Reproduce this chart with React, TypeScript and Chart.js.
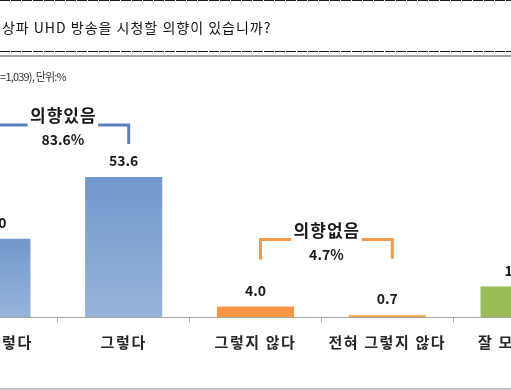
import { useEffect, useRef } from 'react';
import { Chart, registerables } from 'chart.js';

Chart.register(...registerables);

const titleText = '지상파 UHD 방송을 시청할 의향이 있습니까?';
const noteText = '(N=1,039), 단위:%';
const categories = ['매우 그렇다', '그렇다', '그렇지 않다', '전혀 그렇지 않다', '잘 모르겠다'];
const values = [30.0, 53.6, 4.0, 0.7, 11.7];
const groupLabels = ['의향있음', '의향없음'];
const groupTotals = ['83.6%', '4.7%'];
const groupFrom = [0, 2];
const groupTo = [1, 3];
const groupLevels = [73.6, 29.7];

const FONT = '"Noto Sans CJK KR", "Noto Sans", sans-serif';
const barColors = ['blue', 'blue', '#f79646', '#eba43c', '#9bbb59'];
const groupColors = ['#5a80c2', '#f79646'];

const dashed = 'repeating-linear-gradient(90deg, #1a1a1a 0 10px, #ffffff 10px 11px)';

export default function App() {
  const ref = useRef<HTMLCanvasElement | null>(null);

  useEffect(() => {
    document.body.style.margin = '0';
    const canvas = ref.current;
    if (!canvas) return;

    const labelPlugin = {
      id: 'labels',
      beforeDraw(chart: any) {
        chart.ctx.letterSpacing = '1.6px';
      },
      beforeDatasetsDraw(chart: any) {
        chart.ctx.letterSpacing = '0px';
      },
      afterDatasetsDraw(chart: any) {
        const ctx = chart.ctx;
        const meta = chart.getDatasetMeta(0);
        ctx.save();
        ctx.letterSpacing = '0px';
        ctx.fillStyle = '#1a1a1a';
        ctx.font = `bold 14px ${FONT}`;
        ctx.textAlign = 'center';
        ctx.textBaseline = 'middle';
        meta.data.forEach((bar: any, i: number) => {
          ctx.fillText(values[i].toFixed(1), bar.x, bar.y - 16);
        });
        const xs = chart.scales.x;
        const ys = chart.scales.y;
        groupLabels.forEach((lab, g) => {
          const x1 = xs.getPixelForValue(groupFrom[g]) + 5;
          const x2 = xs.getPixelForValue(groupTo[g]) + 5;
          const y = ys.getPixelForValue(groupLevels[g]);
          const mid = (x1 + x2) / 2;
          ctx.font = `bold 17px ${FONT}`;
          ctx.letterSpacing = '1px';
          const w = ctx.measureText(lab).width;
          ctx.strokeStyle = groupColors[g];
          ctx.lineWidth = 3;
          ctx.lineCap = 'butt';
          ctx.beginPath();
          ctx.moveTo(x1, y + 20);
          ctx.lineTo(x1, y);
          ctx.lineTo(mid - w / 2 - 2, y);
          ctx.moveTo(mid + w / 2 + 2, y);
          ctx.lineTo(x2, y);
          ctx.lineTo(x2, y + 19);
          ctx.stroke();
          ctx.fillStyle = '#1a1a1a';
          ctx.fillText(lab, mid + 0.5, y - 9);
          ctx.letterSpacing = '0px';
          ctx.font = `bold 14px ${FONT}`;
          ctx.fillText(groupTotals[g], mid, y + 15);
        });
        ctx.restore();
      },
    };

    const chart = new Chart(canvas, {
      type: 'bar',
      data: {
        labels: categories,
        datasets: [
          {
            data: values,
            backgroundColor: (c: any) => {
              const col = barColors[c.dataIndex];
              if (col !== 'blue') return col;
              const ch = c.chart;
              const ys = ch.scales && ch.scales.y;
              if (!ys) return '#82a5d3';
              const top = ys.getPixelForValue(values[c.dataIndex]);
              const bot = ys.getPixelForValue(0);
              if (!Number.isFinite(top) || !Number.isFinite(bot) || top === bot) return '#82a5d3';
              const gr = ch.ctx.createLinearGradient(0, top, 0, bot);
              gr.addColorStop(0, '#7198cc');
              gr.addColorStop(1, '#96b4da');
              return gr;
            },
            borderWidth: 0,
            categoryPercentage: 1,
            barPercentage: 0.585,
          },
        ],
      },
      options: {
        animation: false,
        responsive: false,
        maintainAspectRatio: false,
        layout: { padding: { top: 56, left: 0, right: 0, bottom: 0 } },
        plugins: { legend: { display: false }, tooltip: { enabled: false }, title: { display: false } },
        scales: {
          x: {
            grid: {
              display: true,
              drawOnChartArea: false,
              drawTicks: true,
              tickLength: 5,
              color: '#a6a6a6',
              offset: true,
            },
            border: { display: true, color: '#a6a6a6' },
            ticks: {
              font: { family: FONT, size: 15, weight: 'bold' },
              color: '#262626',
              padding: 11,
              maxRotation: 0,
              autoSkip: false,
            },
            afterFit: (s: any) => {
              s.height = 73;
            },
          },
          y: { display: false, min: 0, max: 100 },
        },
      },
      plugins: [labelPlugin],
    });
    return () => chart.destroy();
  }, []);

  return (
    <div style={{ position: 'relative', width: 511, height: 390, overflow: 'hidden', background: '#fff' }}>
      <canvas
        ref={ref}
        width={659}
        height={390}
        style={{ position: 'absolute', left: -74, top: 0, width: 659, height: 390 }}
      />
      <div style={{ position: 'absolute', left: 0, top: 0, width: 511, height: 1, background: dashed }} />
      <div
        style={{
          position: 'absolute',
          left: -12,
          top: 17,
          fontFamily: FONT,
          fontSize: 14,
          letterSpacing: '1px',
          lineHeight: '20px',
          color: '#111',
          whiteSpace: 'nowrap',
        }}
      >
        {titleText}
      </div>
      <div style={{ position: 'absolute', left: 0, top: 51, width: 511, height: 1, background: dashed }} />
      <div style={{ position: 'absolute', left: 0, top: 55, width: 511, height: 2, background: '#a3a3a3' }} />
      <div
        style={{
          position: 'absolute',
          left: -10,
          top: 67,
          fontFamily: FONT,
          fontSize: 11,
          letterSpacing: '-0.8px',
          lineHeight: '18px',
          color: '#333',
          whiteSpace: 'nowrap',
        }}
      >
        {noteText}
      </div>
      <div style={{ position: 'absolute', left: 0, top: 388, width: 511, height: 2, background: '#c4c4c4' }} />
    </div>
  );
}
